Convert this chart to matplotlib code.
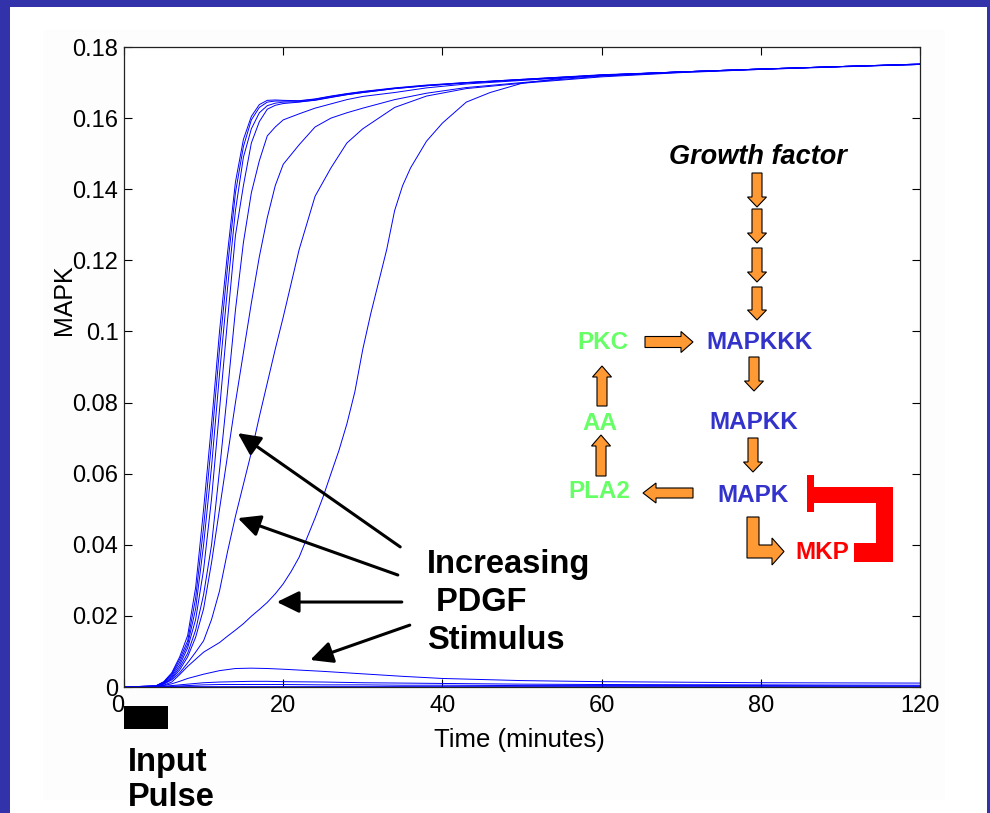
import matplotlib
matplotlib.use("Agg")
import matplotlib.pyplot as plt
from matplotlib.patches import Rectangle, FancyArrow, Polygon

plt.rcParams['font.family'] = ['Liberation Sans', 'DejaVu Sans']

# ---------------- data ----------------
t_fast = [0, 4, 5, 6, 7, 8, 9, 10, 11, 12, 13, 14, 15, 16, 17, 18, 19, 20,
          22, 24, 26, 28, 30, 34, 38, 43, 50, 60, 70, 80, 90, 100]
mapk_b1 = [0, 0.0003, 0.0015, 0.004, 0.0085, 0.0145, 0.028, 0.05, 0.074, 0.1, 0.122, 0.142,
           0.154, 0.1605, 0.1638, 0.165, 0.1651, 0.165, 0.1649, 0.1654, 0.1662, 0.1669, 0.1675,
           0.1685, 0.1693, 0.17, 0.1709, 0.1722, 0.173, 0.1738, 0.1745, 0.1752]
mapk_b2 = [0, 0.0003, 0.0014, 0.0037, 0.0078, 0.013, 0.025, 0.045, 0.069, 0.095, 0.118, 0.139,
           0.152, 0.1595, 0.163, 0.1645, 0.1648, 0.1648, 0.1648, 0.1653, 0.1661, 0.1668, 0.1674,
           0.1684, 0.1692, 0.17, 0.1709, 0.1721, 0.173, 0.1738, 0.1745, 0.1752]
mapk_b3 = [0, 0.0003, 0.0013, 0.0034, 0.007, 0.012, 0.022, 0.04, 0.062, 0.088, 0.112, 0.134,
           0.149, 0.157, 0.1615, 0.1635, 0.1642, 0.1645, 0.1646, 0.165, 0.1658, 0.1666, 0.1672,
           0.1683, 0.1691, 0.1699, 0.1708, 0.1721, 0.173, 0.1738, 0.1745, 0.1751]
mapk_p = [0, 0.0003, 0.0012, 0.003, 0.0062, 0.011, 0.019, 0.033, 0.053, 0.078, 0.103, 0.127,
          0.141, 0.153, 0.159, 0.1625, 0.1636, 0.1641, 0.1645, 0.1651, 0.1659, 0.1666, 0.1672,
          0.1683, 0.1691, 0.1699, 0.1708, 0.172, 0.173, 0.1738, 0.1745, 0.1751]
mapk_q = [0, 0.0002, 0.001, 0.0026, 0.0055, 0.0095, 0.016, 0.026, 0.04, 0.061, 0.083, 0.106,
          0.125, 0.139, 0.148, 0.155, 0.1575, 0.1595, 0.1612, 0.1628, 0.164, 0.1652, 0.1661,
          0.1672, 0.1685, 0.1696, 0.1706, 0.172, 0.173, 0.1738, 0.1745, 0.1752]
mapk_r = [0, 0.0002, 0.0009, 0.0023, 0.0048, 0.0085, 0.014, 0.022, 0.035, 0.05, 0.065, 0.08,
          0.094, 0.108, 0.121, 0.132, 0.141, 0.147, 0.1525, 0.1575, 0.16, 0.1615, 0.1628,
          0.1652, 0.167, 0.1686, 0.17, 0.1718, 0.1729, 0.1737, 0.1745, 0.1751]
mapk_s = [0, 0.0002, 0.0008, 0.002, 0.004, 0.0068, 0.0098, 0.013, 0.019, 0.027, 0.038, 0.048,
          0.057, 0.066, 0.076, 0.0855, 0.095, 0.104, 0.123, 0.138, 0.146, 0.153, 0.157,
          0.163, 0.1662, 0.1683, 0.1698, 0.1716, 0.1728, 0.1737, 0.1744, 0.1751]

t_slow = [0, 4, 5, 6, 7, 8, 10, 12, 13, 14, 15, 16, 17, 18, 19, 20, 21, 22, 23, 24, 25, 26,
          27, 28, 29, 30, 31, 32, 33, 34, 35, 36, 38, 40, 43, 46, 50, 55, 60, 70, 80, 90, 100]
mapk_f = [0, 0.0001, 0.0005, 0.0014, 0.0035, 0.0058, 0.0098, 0.0125, 0.0143, 0.016, 0.0178,
          0.0199, 0.0218, 0.0238, 0.0262, 0.029, 0.0325, 0.0365, 0.042, 0.0475, 0.0534, 0.06,
          0.0665, 0.074, 0.083, 0.095, 0.105, 0.114, 0.123, 0.134, 0.141, 0.146, 0.1535,
          0.1586, 0.1645, 0.1672, 0.1698, 0.1712, 0.1721, 0.173, 0.1738, 0.1745, 0.1752]

t_low = [0, 4, 5, 6, 7, 8, 9, 10, 12, 14, 16, 18, 20, 25, 30, 35, 40, 50, 60, 80, 100]
mapk_l3 = [0, 0.0001, 0.0004, 0.0009, 0.0016, 0.0024, 0.003, 0.0036, 0.0046, 0.0052, 0.0053,
           0.0052, 0.005, 0.0044, 0.0037, 0.003, 0.0024, 0.0018, 0.0015, 0.0012, 0.0011]
mapk_l2 = [0, 0.0001, 0.0002, 0.0004, 0.0006, 0.0008, 0.001, 0.0012, 0.0014, 0.0015, 0.0016,
           0.0016, 0.0015, 0.0014, 0.0012, 0.0011, 0.001, 0.0008, 0.0007, 0.0006, 0.0005]
mapk_l1 = [0, 0, 0.0001, 0.0002, 0.0003, 0.0004, 0.0005, 0.0006, 0.0007, 0.0007, 0.0007,
           0.0007, 0.0007, 0.0006, 0.0006, 0.0005, 0.0005, 0.0004, 0.0004, 0.0004, 0.0003]
mapk_l0 = [0, 0, 0, 0.0001, 0.0001, 0.0001, 0.0001, 0.0001, 0.0001, 0.0001, 0.0001,
           0.0001, 0.0001, 0.0001, 0.0001, 0.0001, 0.0001, 0.0001, 0.0001, 0.0001, 0.0001]

x_ticks = [0, 20, 40, 60, 80, 100]
x_tick_labels = ['0', '20', '40', '60', '80', '120']
y_ticks = [0, 0.02, 0.04, 0.06, 0.08, 0.1, 0.12, 0.14, 0.16, 0.18]
y_tick_labels = ['0', '0.02', '0.04', '0.06', '0.08', '0.1', '0.12', '0.14', '0.16', '0.18']
pulse_start, pulse_end = 0, 5.5

# ---------------- figure ----------------
W, H = 990, 813
fig = plt.figure(figsize=(W / 100, H / 100), dpi=100)
fig.patch.set_facecolor('#3232aa')

# background overlay (pixel coordinates)
bg = fig.add_axes([0, 0, 1, 1], zorder=0)
bg.set_xlim(0, W); bg.set_ylim(H, 0); bg.axis('off')
bg.add_patch(Rectangle((10, 7), 977, 806, fc='white', ec='none'))
bg.add_patch(Rectangle((43, 30), 902, 770, fc='#fdfdfd', ec='none'))

# main axes
L, R, T, B = 124, 920, 47, 687
ax = fig.add_axes([L / W, 1 - B / H, (R - L) / W, (B - T) / H], zorder=1)
ax.set_facecolor('white')
blue = '#0000ff'
for t, v in [(t_low, mapk_l0), (t_low, mapk_l1), (t_low, mapk_l2), (t_low, mapk_l3),
             (t_slow, mapk_f), (t_fast, mapk_s), (t_fast, mapk_r), (t_fast, mapk_q),
             (t_fast, mapk_p), (t_fast, mapk_b3), (t_fast, mapk_b2), (t_fast, mapk_b1)]:
    ax.plot(t, v, color=blue, lw=0.7)

ax.set_xlim(0, 100)
ax.set_ylim(0, 0.18)
ax.set_xticks(x_ticks)
ax.set_xticklabels(x_tick_labels)
ax.set_yticks(y_ticks)
ax.set_yticklabels(y_tick_labels)
ax.tick_params(direction='in', length=6, width=0.8, top=True, right=True,
               labelsize=17, colors='black')
ax.tick_params(axis='x', pad=6)
ax.tick_params(axis='y', pad=4)
ax.get_xticklabels()[0].set_horizontalalignment('right')
for s in ax.spines.values():
    s.set_linewidth(0.9)
    s.set_color('#222222')

# annotation arrows (data coordinates)
arrows = [((34.7, 0.0394), (14.3, 0.0714)),
          ((34.4, 0.0315), (14.3, 0.0475)),
          ((34.9, 0.0239), (19.2, 0.0239)),
          ((35.9, 0.0174), (23.4, 0.0076))]
for start, tip in arrows:
    ax.annotate('', xy=tip, xytext=start,
                arrowprops=dict(arrowstyle='-|>,head_length=0.45,head_width=0.22',
                                mutation_scale=30, lw=2.2, color='black',
                                shrinkA=0, shrinkB=0))
ax.text(38.1, 0.0237, 'Increasing\n PDGF\nStimulus', fontsize=23.5, fontweight='bold',
        ha='left', va='center', linespacing=1.29)

# input pulse bar
ax.add_patch(Rectangle((pulse_start, -0.0118), pulse_end - pulse_start, 0.0065,
                       transform=ax.transData, fc='black', ec='none', clip_on=False))

# ---------------- overlay texts and pathway diagram (pixel coords) ----------------
ov = fig.add_axes([0, 0, 1, 1], zorder=2)
ov.set_xlim(0, W); ov.set_ylim(H, 0); ov.axis('off'); ov.patch.set_alpha(0)

ov.text(64, 300, 'MAPK', rotation=90, fontsize=18, ha='center', va='center')
ov.text(519, 740, 'Time (minutes)', fontsize=18.5, ha='center', va='center')
ov.text(128, 780, 'Input\nPulse', fontsize=23.5, fontweight='bold', ha='left',
        va='center', linespacing=1.2)

bluet = '#3333cc'
greent = '#66ff66'
ov.text(758, 157, 'Growth factor', fontsize=19.5, fontweight='bold', style='italic',
        ha='center', va='center')
ov.text(759, 342, 'MAPKKK', fontsize=17.5, fontweight='bold', color=bluet, ha='center', va='center')
ov.text(754, 422, 'MAPKK', fontsize=17.5, fontweight='bold', color=bluet, ha='center', va='center')
ov.text(753, 495, 'MAPK', fontsize=17.5, fontweight='bold', color=bluet, ha='center', va='center')
ov.text(603, 342, 'PKC', fontsize=17.5, fontweight='bold', color=greent, ha='center', va='center')
ov.text(600, 423, 'AA', fontsize=17.5, fontweight='bold', color=greent, ha='center', va='center')
ov.text(599, 491, 'PLA2', fontsize=17.5, fontweight='bold', color=greent, ha='center', va='center')
ov.text(822, 552, 'MKP', fontsize=17.5, fontweight='bold', color='#ff0000', ha='center', va='center')

orange = '#ff9933'
def block_arrow(x0, y0, x1, y1, w=10, hw=19, hl=10):
    ov.add_patch(FancyArrow(x0, y0, x1 - x0, y1 - y0, width=w, head_width=hw,
                            head_length=hl, length_includes_head=True,
                            fc=orange, ec='black', lw=0.8))

for y0, y1 in [(173, 207), (209, 243), (248, 282), (287, 320)]:
    block_arrow(757, y0, 757, y1)
block_arrow(754, 357, 754, 391)
block_arrow(753, 438, 753, 472)
block_arrow(645, 342, 693, 342, w=11, hw=21, hl=12)
block_arrow(602, 406, 602, 366, hl=11)
block_arrow(601, 476, 601, 435, hl=11)
block_arrow(693, 493, 643, 493, w=10, hw=20, hl=13)

ov.add_patch(Polygon([(747, 517), (759, 517), (759, 545), (772, 545), (772, 538),
                      (784, 551.5), (772, 565), (772, 558), (747, 558)],
                     closed=True, fc=orange, ec='black', lw=0.8))
ov.add_patch(Rectangle((807, 475), 7, 37, fc='#ff0000', ec='none'))
ov.add_patch(Polygon([(814, 487), (893, 487), (893, 562), (854, 562), (854, 543),
                      (876, 543), (876, 503), (814, 503)], closed=True, fc='#ff0000', ec='none'))

fig.savefig('out.png', dpi=100, facecolor=fig.get_facecolor())
